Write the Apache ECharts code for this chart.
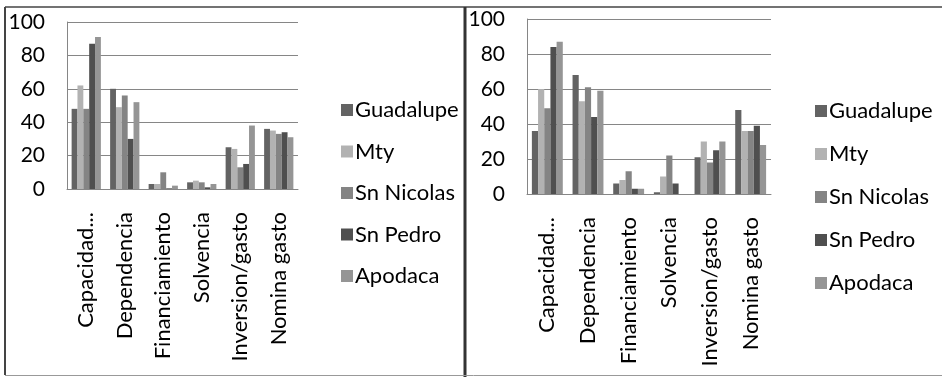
<!DOCTYPE html>
<html>
<head>
<meta charset="utf-8">
<script src="https://cdn.jsdelivr.net/npm/echarts@6/dist/echarts.min.js"></script>
<style>
html,body{margin:0;padding:0;background:#fff;}
#c{width:942px;height:377px;}
</style>
</head>
<body>
<div id="c"></div>
<script>
const categories = ["Capacidad...", "Dependencia", "Financiamiento", "Solvencia", "Inversion/gasto", "Nomina gasto"];
const seriesNames = ["Guadalupe", "Mty", "Sn Nicolas", "Sn Pedro", "Apodaca"];
const yTicks = [0, 20, 40, 60, 80, 100];

// Left chart
const leftGuadalupe = [48, 60, 3, 4, 25, 36];
const leftMty       = [62, 49, 3, 5, 24, 35];
const leftSnNicolas = [48, 56, 10, 4, 13, 33];
const leftSnPedro   = [87, 30, 0.4, 1, 15, 34];
const leftApodaca   = [91, 52, 2, 3, 38, 31];

// Right chart
const rightGuadalupe = [36, 68, 6, 1, 21, 48];
const rightMty       = [60, 53, 8, 10, 30, 36];
const rightSnNicolas = [49, 61, 13, 22, 18, 36];
const rightSnPedro   = [84, 44, 3, 6, 25, 39];
const rightApodaca   = [87, 59, 3, 0, 30, 28];

const colors = ["#636363", "#b2b2b2", "#848484", "#4f4f4f", "#959595"];
const FONT = "Lato";

const leftData = [leftGuadalupe, leftMty, leftSnNicolas, leftSnPedro, leftApodaca];
const rightData = [rightGuadalupe, rightMty, rightSnNicolas, rightSnPedro, rightApodaca];

function xAxis(gi) {
  return {
    type: 'category', gridIndex: gi, data: categories,
    axisLine: {show: true, lineStyle: {color: '#868686', width: 1}},
    axisTick: {show: false},
    axisLabel: {rotate: 90, interval: 0, margin: 23, color: '#000', fontFamily: FONT, fontSize: 22}
  };
}
function yAxis(gi) {
  return {
    type: 'value', gridIndex: gi, min: yTicks[0], max: yTicks[yTicks.length - 1], interval: 20,
    axisLine: {show: true, lineStyle: {color: '#868686', width: 1}},
    axisTick: {show: false},
    splitLine: {show: true, lineStyle: {color: '#868686', width: 1}},
    axisLabel: {color: '#000', fontFamily: FONT, fontSize: 21, margin: 22}
  };
}
const series = [];
[leftData, rightData].forEach((set, gi) => {
  set.forEach((vals, i) => {
    series.push({
      name: seriesNames[i], type: 'bar', xAxisIndex: gi, yAxisIndex: gi,
      data: vals, barGap: '0%', barCategoryGap: '24%',
      itemStyle: {color: colors[i]}, animation: false
    });
  });
});
function legend(left, top, gap) {
  return {
    orient: 'vertical', left: left, top: top, data: seriesNames,
    itemWidth: 12, itemHeight: 12, itemGap: gap, icon: 'rect',
    textStyle: {color: '#000', fontFamily: FONT, fontSize: 22, lineHeight: 22, padding: [0,0,0,-3]},
    selectedMode: false
  };
}
const chart = echarts.init(document.getElementById('c'), null, {renderer: 'canvas'});
chart.setOption({
  animation: false,
  color: colors,
  grid: [
    {left: 67, top: 22, width: 231, height: 167},
    {left: 527, top: 19, width: 244, height: 175}
  ],
  xAxis: [xAxis(0), xAxis(1)],
  yAxis: [yAxis(0), yAxis(1)],
  legend: [legend(336, 94, 19.5), legend(810, 95, 21)],
  series: series,
  graphic: [
    {type: 'line', shape: {x1: 5, y1: 7, x2: 942, y2: 7}, style: {stroke: '#444', lineWidth: 1.5}},
    {type: 'line', shape: {x1: 5, y1: 7, x2: 5, y2: 375}, style: {stroke: '#444', lineWidth: 2}},
    {type: 'line', shape: {x1: 465, y1: 7, x2: 465, y2: 377}, style: {stroke: '#333', lineWidth: 3}},
    {type: 'line', shape: {x1: 5, y1: 375.5, x2: 942, y2: 375.5}, style: {stroke: '#999', lineWidth: 1}}
  ]
});
</script>
</body>
</html>
